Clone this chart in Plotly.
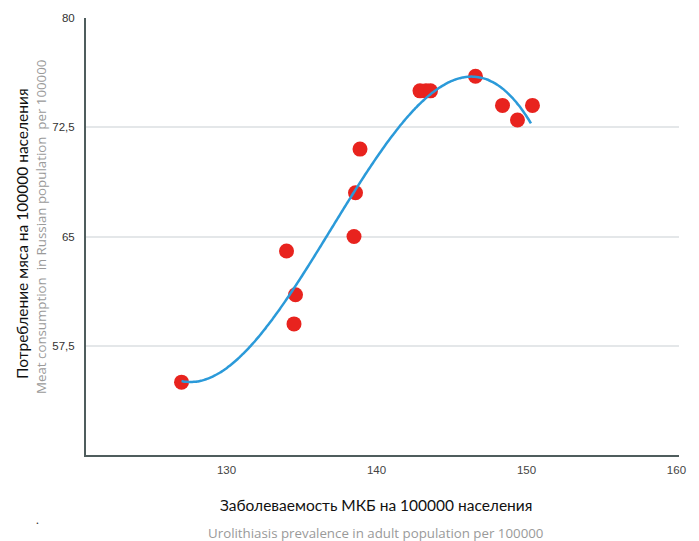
import numpy as np
import plotly.graph_objects as go

# Urolithiasis prevalence (x) vs meat consumption (y), per 100000
prevalence = [127.0, 134.0, 134.6, 134.5, 138.5, 138.6, 138.9,
              142.9, 143.3, 143.6, 146.6, 148.4, 149.4, 150.4]
meat = [55, 64, 61, 59, 65, 68, 71,
        75, 75, 75, 76, 74, 73, 74]

x_ticks = [130, 140, 150, 160]
y_ticks = [57.5, 65, 72.5, 80]
y_tick_text = ["57,5", "65", "72,5", "80"]

# cubic trend line fitted to the observations
coef = np.polyfit(prevalence, meat, 3)
xs = np.linspace(min(prevalence), max(prevalence) - 0.1, 200)
ys = np.polyval(coef, xs)

fig = go.Figure()
fig.add_trace(go.Scatter(
    x=prevalence, y=meat, mode="markers",
    marker=dict(size=15, color="#e8231e", line=dict(width=0)),
    hoverinfo="skip", showlegend=False,
))
fig.add_trace(go.Scatter(
    x=xs, y=ys, mode="lines",
    line=dict(color="#2b9ad9", width=2.5, shape="spline"),
    hoverinfo="skip", showlegend=False,
))

L, R, T, B = 86, 20, 18, 86
W, H = 699, 541
pw, ph = W - L - R, H - T - B


def px(xp):
    return (xp - L) / pw


def py(yp):
    return (H - B - yp) / ph


title_font = dict(family="Lato, Open Sans, sans-serif", size=15.5, color="#111111")
sub_font = dict(family="Open Sans, Lato, sans-serif", size=13.3, color="#9a9a9a")

annotations = [
    dict(text="Потребление мяса на 100000 населения", textangle=-90,
         x=px(22), y=py(234), xref="paper", yref="paper", showarrow=False,
         font=title_font, xanchor="center", yanchor="middle"),
    dict(text="Meat consumption  in Russian population  per 100000", textangle=-90,
         x=px(41), y=py(227), xref="paper", yref="paper", showarrow=False,
         font=sub_font, xanchor="center", yanchor="middle"),
    dict(text="Заболеваемость МКБ на 100000 населения",
         x=px(376), y=py(505), xref="paper", yref="paper", showarrow=False,
         font=title_font, xanchor="center", yanchor="middle"),
    dict(text="Urolithiasis prevalence in adult population per 100000",
         x=px(375), y=py(533), xref="paper", yref="paper", showarrow=False,
         font=sub_font, xanchor="center", yanchor="middle"),
    dict(text=".", x=px(37), y=py(519), xref="paper", yref="paper", showarrow=False,
         font=dict(family="Lato, sans-serif", size=12, color="#333333"),
         xanchor="center", yanchor="middle"),
]

fig.update_layout(
    width=W, height=H,
    margin=dict(l=L, r=R, t=T, b=B, pad=0),
    paper_bgcolor="white", plot_bgcolor="white",
    annotations=annotations,
    xaxis=dict(
        range=[120.63, 160.17], tickvals=x_ticks,
        showgrid=False, zeroline=False,
        showline=True, linecolor="#4f5d5d", linewidth=2,
        ticks="", ticklabelstandoff=3,
        tickfont=dict(family="Liberation Sans, Arial, sans-serif", size=11.5, color="#444444"),
    ),
    yaxis=dict(
        range=[50, 80], tickvals=y_ticks, ticktext=y_tick_text,
        showgrid=True, gridcolor="#e4e7e9", gridwidth=1.5, zeroline=False,
        showline=True, linecolor="#4f5d5d", linewidth=2,
        ticks="", ticklabelstandoff=7,
        tickfont=dict(family="Liberation Sans, Arial, sans-serif", size=11.5, color="#333333"),
    ),
)

fig.write_html("out.html")
